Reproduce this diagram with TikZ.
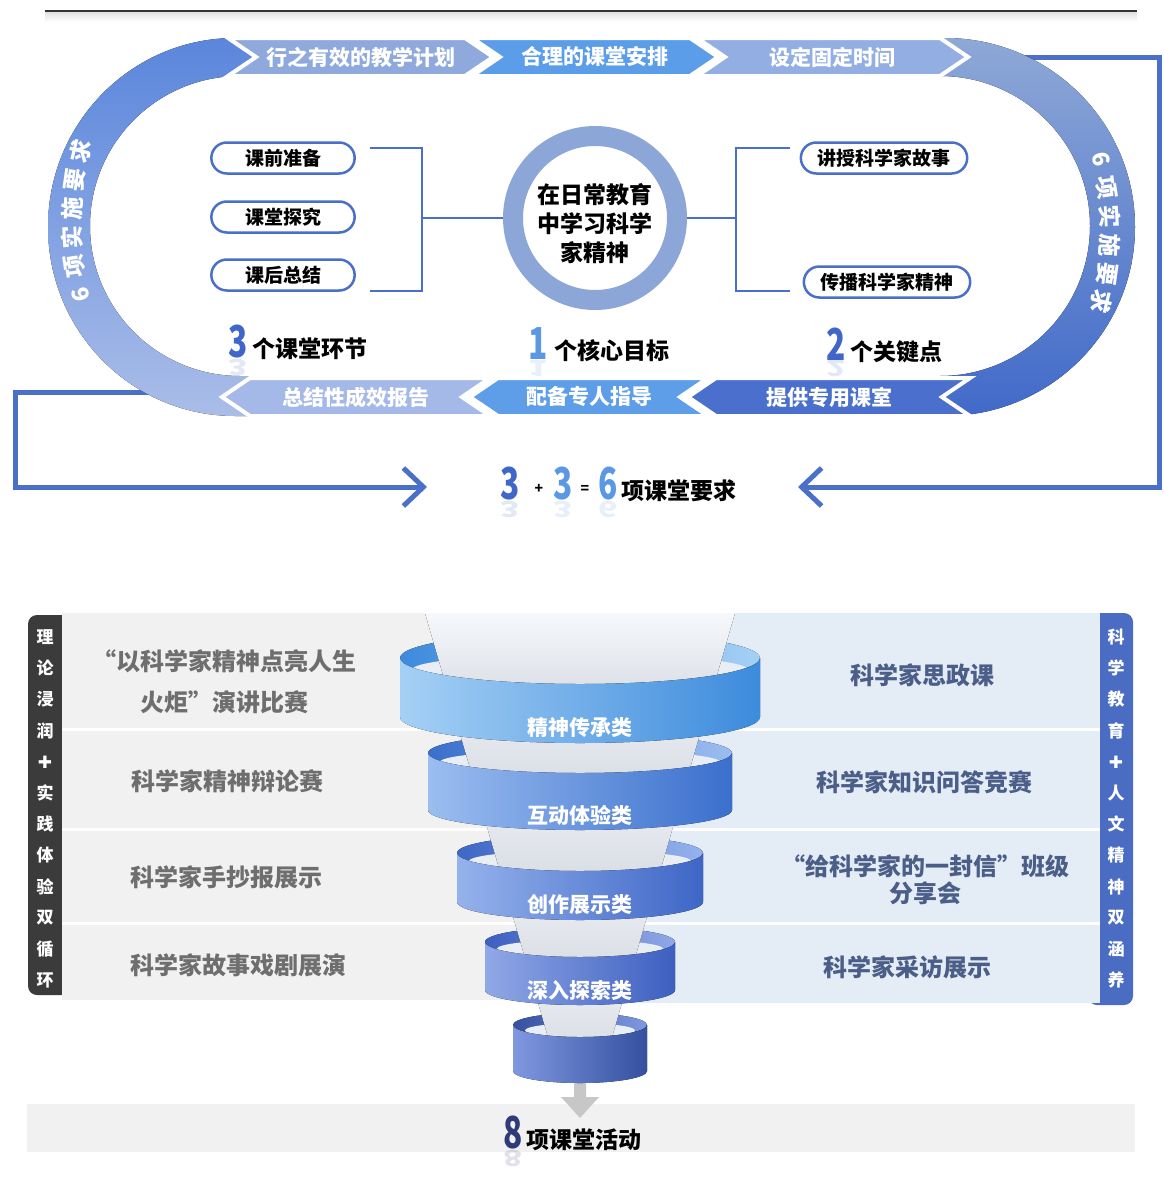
\documentclass[tikz,border=0pt]{standalone}
\usepackage{fontspec}
\usetikzlibrary{arrows.meta,shapes.misc}

\setmainfont{Noto Sans CJK SC}
\newfontfamily\numfont{Noto Sans CJK SC}[FakeStretch=0.72]
\newfontfamily\symfont{DejaVu Sans}

\definecolor{lineblue}{HTML}{4A6FC8}
\definecolor{feedblue}{HTML}{4A70C8}
\definecolor{ringgray}{HTML}{8CA6D8}
\definecolor{bandtopL}{HTML}{5A86DC}
\definecolor{bandbotL}{HTML}{AABDE8}
\definecolor{bandtopR}{HTML}{8EA8D6}
\definecolor{bandbotR}{HTML}{416AC9}
\definecolor{chevA}{HTML}{8FA9DD}
\definecolor{chevB}{HTML}{5B9DE9}
\definecolor{chevC}{HTML}{93AEE3}
\definecolor{chevD}{HTML}{A4B9E7}
\definecolor{chevE}{HTML}{5E9DE8}
\definecolor{chevF}{HTML}{4A6FCC}
\definecolor{numdark}{HTML}{3F66C8}
\definecolor{numlight}{HTML}{5A98E4}
\definecolor{numnavy}{HTML}{2F3A78}
\definecolor{panelgray}{HTML}{F1F1F1}
\definecolor{panelblue}{HTML}{E4ECF6}
\definecolor{tabgray}{HTML}{3B3B3B}
\definecolor{tabblue}{HTML}{4A6CC2}
\definecolor{graytxt}{HTML}{6E6E6E}
\definecolor{slatetxt}{HTML}{4B5E88}
\definecolor{hollow}{HTML}{E9EEF5}
\definecolor{streamtop}{HTML}{F6F8FB}
\definecolor{streambot}{HTML}{D3D8E0}
\definecolor{ringAl}{HTML}{A5D0F5}
\definecolor{ringAr}{HTML}{3D8BDC}
\definecolor{ringBl}{HTML}{9BBDF0}
\definecolor{ringBr}{HTML}{3A6FCC}
\definecolor{ringCl}{HTML}{95B2EC}
\definecolor{ringCr}{HTML}{3E66C6}
\definecolor{ringDl}{HTML}{90A8E6}
\definecolor{ringDr}{HTML}{3D5FC0}
\definecolor{ringEl}{HTML}{7F98E0}
\definecolor{ringEr}{HTML}{34509F}

\tikzset{
  chev/.style={fill=#1, draw=white, line width=4pt},
  chevtxt/.style={text=white, font=\fontsize{21}{21}\selectfont\bfseries, inner sep=0pt},
  arcchar/.style={text=white, font=\fontsize{23}{23}\selectfont\bfseries, inner sep=0pt},
  pill/.style={rounded rectangle, draw=lineblue, line width=2.5pt, fill=white,
    minimum height=31pt, font=\fontsize{19}{19}\selectfont\bfseries},
  brk/.style={draw=lineblue, line width=2pt},
  feed/.style={draw=feedblue, line width=5pt, -{Straight Barb[length=20pt,width=38pt]}},
  goal/.style={circle, draw=ringgray, line width=20pt, fill=white, minimum size=164pt,
    inner sep=0pt},
  goaltxt/.style={align=center, inner sep=0pt, font=\fontsize{23}{29}\selectfont\bfseries},
  digit/.style={font=\numfont\fontsize{44}{44}\selectfont\bfseries, inner sep=0pt},
  mirror/.style={digit, yscale=-0.5, transform shape, opacity=0.15, anchor=south},
  lbl/.style={font=\fontsize{23}{23}\selectfont\bfseries, inner sep=0pt},
  rowl/.style={text=graytxt, font=\fontsize{24}{41}\selectfont\bfseries, align=center},
  rowr/.style={text=slatetxt, font=\fontsize{24}{27}\selectfont\bfseries, align=center},
  tabchar/.style={text=white, font=\fontsize{17}{17}\selectfont\bfseries, inner sep=0pt},
  ringtxt/.style={text=white, font=\fontsize{21}{21}\selectfont\bfseries}
}

\begin{document}
\begin{tikzpicture}[x=1pt,y=-1pt]
  \useasboundingbox (0,0) rectangle (1163,1183);
  \fill[white] (0,0) rectangle (1163,1183);

  % heading rule
  \shade[top color=black!12, bottom color=white] (45,12) rectangle (1137,22);
  \draw[black!80, line width=2pt] (45,11) -- (1137,11);

  % feedback lines into the sum
  \coordinate (lfeed) at (160,392);
  \coordinate (rfeed) at (1025,57);
  \coordinate (lin) at (427,487);
  \coordinate (rin) at (798,487);
  \draw[feed] (lfeed) -- (15,392) |- (lin);
  \draw[feed] (rfeed) -- (1159,57) |- (rin);

  % the two half rings of the track
  \fill[top color=bandtopL, bottom color=bandbotL]
    (262,38) -- (235,38) arc[start angle=-90, end angle=-270, x radius=187, y radius=189]
    -- (262,416) -- (262,376) -- (240,376) arc[start angle=90, end angle=270, radius=150]
    -- (262,76) -- cycle;
  \fill[top color=bandtopR, bottom color=bandbotR]
    (925,38) -- (945,38) arc[start angle=-90, end angle=90, x radius=190, y radius=189]
    -- (925,416) -- (925,376) -- (940,376) arc[start angle=90, end angle=-90, radius=150]
    -- (925,76) -- cycle;

  % chevrons, top row to the right, bottom row to the left
  \foreach \xa/\xb/\col/\txt [count=\i] in {228/465/chevA/行之有效的教学计划,
      472/690/chevB/合理的课堂安排, 697/940/chevC/设定固定时间}{
    \path[chev=\col] (\xa,38) -- (\xb,38) -- (\xb+28,57) -- (\xb,76) -- (\xa,76)
      -- (\xa+28,57) -- cycle;
    \node[chevtxt] (top\i) at ({(\xa+\xb)/2+14},57) {\txt};
  }
  \foreach \xa/\xb/\col/\txt [count=\i] in {222/462/chevD/总结性成效报告,
      470/680/chevE/配备专人指导, 688/942/chevF/提供专用课室}{
    \path[chev=\col] (\xa,397) -- (\xa+28,378) -- (\xb+28,378) -- (\xb,397)
      -- (\xb+28,416) -- (\xa+28,416) -- cycle;
    \node[chevtxt] (bot\i) at ({(\xa+\xb)/2+14},397) {\txt};
  }

  % lettering along the half rings
  \foreach \c [count=\i from 0] in {6,项,实,施,要,求}{
    \pgfmathsetmacro\a{166.25+5.5*\i}
    \node[arcchar, rotate={-\a-90}] (la\i) at ({372+300*cos(\a)},{223+300*sin(\a)}) {\c};
  }
  \foreach \c [count=\i from 0] in {6,项,实,施,要,求}{
    \pgfmathsetmacro\a{-14+5.5*\i}
    \node[arcchar, rotate={-\a-90}] (ra\i) at ({810+300*cos(\a)},{232+300*sin(\a)}) {\c};
  }

  % core goal with its two brackets
  \node[goal] (goal) at (595,218) {};
  \node[goaltxt] (goalt) at ([yshift=-6pt]goal.center) {在日常教育\\中学习科学\\家精神};
  \node[pill, minimum width=150pt] (prep) at (283,158) {课前准备};
  \node[pill, minimum width=150pt] (probe) at (283,217) {课堂探究};
  \node[pill, minimum width=150pt] (recap) at (283,275) {课后总结};
  \node[pill, minimum width=173pt] (story) at (884,158) {讲授科学家故事};
  \node[pill, minimum width=173pt] (spread) at (887,282) {传播科学家精神};
  \draw[brk] (370,148) -| (422,291) -- (370,291);
  \draw[brk] (422,218) -- (goal.west);
  \draw[brk] (goal.east) -- (736,218);
  \draw[brk] (790,148) -| (736,291) -- (790,291);

  % counts under the track
  \node[digit, text=numdark] (n3) at (238,342) {3};
  \node[mirror, text=numdark] at (n3.south) {3};
  \node[lbl, anchor=base west] (steps) at ([xshift=4pt]n3.base east) {个课堂环节};
  \node[digit, text=numlight] (n1) at (538,344) {1};
  \node[mirror, text=numlight] at (n1.south) {1};
  \node[lbl, anchor=base west] (core) at ([xshift=6pt]n1.base east) {个核心目标};
  \node[digit, text=numdark] (n2) at (836,344) {2};
  \node[mirror, text=numdark] at (n2.south) {2};
  \node[lbl, anchor=base west] (keys) at ([xshift=4pt]n2.base east) {个关键点};

  % 3 + 3 = 6
  \node[digit, text=numdark] (sa) at (510,484) {3};
  \node[mirror, text=numdark] at (sa.south) {3};
  \node[lbl, font=\fontsize{14}{14}\selectfont\bfseries] (plus) at (539,489) {+};
  \node[digit, text=numlight] (sb) at (563,484) {3};
  \node[mirror, text=numlight] at (sb.south) {3};
  \node[lbl, font=\fontsize{14}{14}\selectfont\bfseries] (eq) at (585,489) {=};
  \node[digit, text=numlight] (sc) at (608,484) {6};
  \node[mirror, text=numlight] at (sc.south) {6};
  \node[lbl, anchor=base west] (total) at ([xshift=3pt]sc.base east) {项课堂要求};

  % side tabs and row panels
  \fill[tabgray, rounded corners=9pt] (28,615) rectangle (75,995);
  \fill[tabblue, rounded corners=9pt] (1088,613) rectangle (1133,1005);
  \fill[panelgray] (62,613) rectangle (580,1000);
  \fill[panelblue] (580,613) rectangle (1100,1003);
  \foreach \y in {729,829,923}
    \draw[white, line width=3pt] (62,\y) -- (1100,\y);
  \foreach \c [count=\i from 0] in {理,论,浸,润,{\symfont ✚},实,践,体,验,双,循,环}
    \node[tabchar] (lt\i) at (45,637+31.2*\i) {\c};
  \foreach \c [count=\i from 0] in {科,学,教,育,{\symfont ✚},人,文,精,神,双,涵,养}
    \node[tabchar] (rt\i) at (1116,637+31.2*\i) {\c};

  \node[rowl] (l1) at (224,682) {“以科学家精神点亮人生\\火炬”演讲比赛};
  \node[rowl] (l2) at (227,781) {科学家精神辩论赛};
  \node[rowl] (l3) at (226,877) {科学家手抄报展示};
  \node[rowl] (l4) at (238,965) {科学家故事戏剧展演};
  \node[rowr] (r1) at (922,675) {科学家思政课};
  \node[rowr] (r2) at (924,782) {科学家知识问答竞赛};
  \node[rowr] (r3) at (925,880) {“给科学家的一封信”班级\\分享会};
  \node[rowr] (r4) at (907,967) {科学家采访展示};

  % result bar and the drop out of the funnel
  \fill[panelgray] (27,1104) rectangle (1135,1152);
  \fill[black!22] (574,1080) -- (586,1080) -- (586,1097) -- (599,1097) -- (580,1118)
    -- (561,1097) -- (574,1097) -- cycle;

  % funnel rings, lowest first
  \foreach \ty/\rx/\ry/\hh/\sy/\lcol/\rcol/\txt [count=\i] in {
      1025/67/12/46/942/ringEl/ringEr/{},
      942/95/15/48/853/ringDl/ringDr/深入探索类,
      853/123/18/49/753/ringCl/ringCr/创作展示类,
      753/152/20/57/658/ringBl/ringBr/互动体验类,
      658/180/26/59/613/ringAl/ringAr/精神传承类}{
    \fill[left color=\rcol, right color=\lcol] (580,\ty) ellipse [x radius=\rx, y radius=\ry];
    \fill[hollow] (580,\ty+0.45*\ry) ellipse [x radius=\rx-12, y radius=0.6*\ry];
    \pgfmathsetmacro\wa{155-(\sy-613)*0.29}
    \pgfmathsetmacro\wb{155-(\ty+\hh-613)*0.29}
    \fill[top color=streamtop, bottom color=streambot] (580-\wa,\sy) -- (580+\wa,\sy)
      -- (580+\wb,\ty+\hh) -- (580-\wb,\ty+\hh) -- cycle;
    \fill[left color=\lcol, right color=\rcol] (580-\rx,\ty) -- (580-\rx,\ty+\hh)
      arc[start angle=180, end angle=0, x radius=\rx, y radius=\ry] -- (580+\rx,\ty)
      arc[start angle=0, end angle=180, x radius=\rx, y radius=\ry] -- cycle;
    \node[ringtxt] (ring\i) at (580,\ty+\hh+\ry-15) {\txt};
  }

  % 8 activities
  \node[digit, text=numnavy] (n8) at (513,1133) {8};
  \node[mirror, text=numnavy] at (n8.south) {8};
  \node[lbl, anchor=base west] (acts) at ([xshift=3pt]n8.base east) {项课堂活动};
\end{tikzpicture}
\end{document}
